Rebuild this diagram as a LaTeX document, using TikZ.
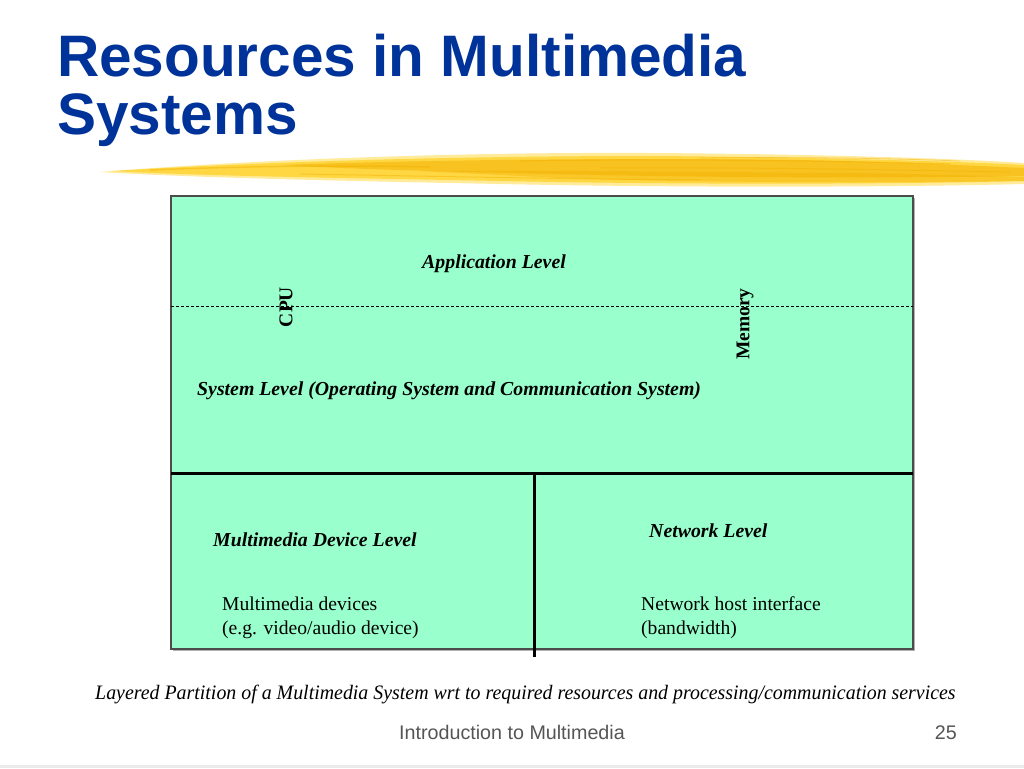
\documentclass[tikz,border=0pt]{standalone}
\usepackage{fontspec}
\setmainfont{Liberation Serif}
\newfontfamily\arialfont{Liberation Sans}
\definecolor{titleblue}{HTML}{003399}
\definecolor{boxfill}{HTML}{99FFCC}
\definecolor{brushA}{HTML}{FFD63F}
\definecolor{brushB}{HTML}{F2B000}
\definecolor{brushC}{HTML}{FFE680}
\definecolor{footgray}{HTML}{555555}
\tikzset{
  lvl/.style={inner sep=0, anchor=base west, font=\bfseries\itshape\fontsize{19.8}{22}\selectfont},
  plain/.style={inner sep=0, anchor=base west, align=left, font=\fontsize{19.6}{24}\selectfont},
  vlab/.style={inner sep=0, rotate=90, font=\bfseries\fontsize{19.5}{22}\selectfont},
  ttl/.style={inner sep=0, anchor=base west, text=titleblue, font=\arialfont\bfseries\fontsize{58.5}{66}\selectfont},
  thick line/.style={line width=3pt, black},
  streak/.style={brushB, line width=#1, line cap=round, opacity=0.45},
}
\begin{document}
\begin{tikzpicture}[x=1pt,y=-1pt]
\useasboundingbox (0,0) rectangle (1024,768);
\fill[white] (0,0) rectangle (1024,768);
% title
\node[ttl] (t1) at (57,76) {Resources in Multimedia};
\node[ttl] (t2) at (57,134) {Systems};
% brush stroke
\fill[brushC, opacity=0.8] (100,172) .. controls (250,160) and (450,152) .. (650,153)
  .. controls (800,154) and (950,158) .. (1024,163) -- (1024,184)
  .. controls (900,187) and (700,188) .. (500,184)
  .. controls (350,181) and (200,178) .. (100,172) -- cycle;
\fill[brushA, opacity=0.95] (112,171) .. controls (260,162) and (450,156) .. (650,156)
  .. controls (800,157) and (950,161) .. (1024,165) -- (1024,181)
  .. controls (900,184) and (700,185) .. (500,181)
  .. controls (350,178) and (200,176) .. (112,171) -- cycle;
\fill[brushB, opacity=0.5] (280,165) .. controls (450,159) and (650,158) .. (800,160)
  .. controls (900,162) and (980,166) .. (1024,168) -- (1024,176)
  .. controls (920,178) and (750,178) .. (600,175)
  .. controls (450,172) and (350,169) .. (280,165) -- cycle;
\fill[brushB, opacity=0.4] (420,171) .. controls (550,170) and (700,172) .. (850,173)
  .. controls (930,174) and (990,176) .. (1024,177) -- (1024,181)
  .. controls (900,183) and (700,183) .. (560,178) -- cycle;
\draw[streak=1.5pt] (150,170) .. controls (250,166) and (350,165) .. (430,167);
\draw[streak=1.2pt] (520,161) .. controls (650,159) and (800,160) .. (950,164);
\draw[streak=1pt] (600,168) .. controls (750,167) and (900,170) .. (1010,172);
\draw[streak=1pt] (300,174) .. controls (420,176) and (560,179) .. (700,180);
\draw[streak=0.8pt] (700,158) .. controls (800,157) and (880,158) .. (960,161);
% box
\coordinate (tl) at (171,196);
\coordinate (br) at (913,649);
\fill[gray!60] (173,198) rectangle (915,651);
\filldraw[fill=boxfill, draw=black!70, line width=1.2pt] (tl) rectangle (br);
\coordinate (dl) at (171,306);
\coordinate (dr) at (913,306);
\draw[black, line width=0.8pt, dash pattern=on 3pt off 2pt] (dl) -- (dr);
\coordinate (hl) at (171,473);
\coordinate (hr) at (913,473);
\draw[thick line] (hl) -- (hr);
\coordinate (vt) at (534,473);
\coordinate (vb) at (534,657);
\draw[thick line] (vt) -- (vb);
% labels
\node[lvl, anchor=base] (app) at (494,268) {Application Level};
\node[vlab] (cpu) at (286,307) {CPU};
\node[vlab] (mem) at (745,324) {Memory};
\node[lvl] (sys) at (197,395) {System Level (Operating System and Communication System)};
\node[lvl] (mdl) at (213,546) {Multimedia Device Level};
\node[lvl] (nl) at (649,537) {Network Level};
\node[plain] (md1) at (222,610) {Multimedia devices};
\node[plain] (md2) at (222,634) {(e.g. video/audio device)};
\node[plain] (nh1) at (641,610) {Network host interface};
\node[plain] (nh2) at (641,634) {(bandwidth)};
% caption
\node[inner sep=0, anchor=base west, font=\itshape\fontsize{20.5}{22}\selectfont] (cap) at (95,699)
  {\scalebox{0.97}[1]{Layered Partition of a Multimedia System wrt to required resources and processing/communication services}};
% footer
\node[inner sep=0, anchor=base west, text=footgray, font=\arialfont\fontsize{19.7}{22}\selectfont] (foot) at (399,739) {Introduction to Multimedia};
\node[inner sep=0, anchor=base east, text=footgray, font=\arialfont\fontsize{19.7}{22}\selectfont] (pg) at (957,739) {25};
\fill[black!8] (0,765) rectangle (1024,768);
\end{tikzpicture}
\end{document}
